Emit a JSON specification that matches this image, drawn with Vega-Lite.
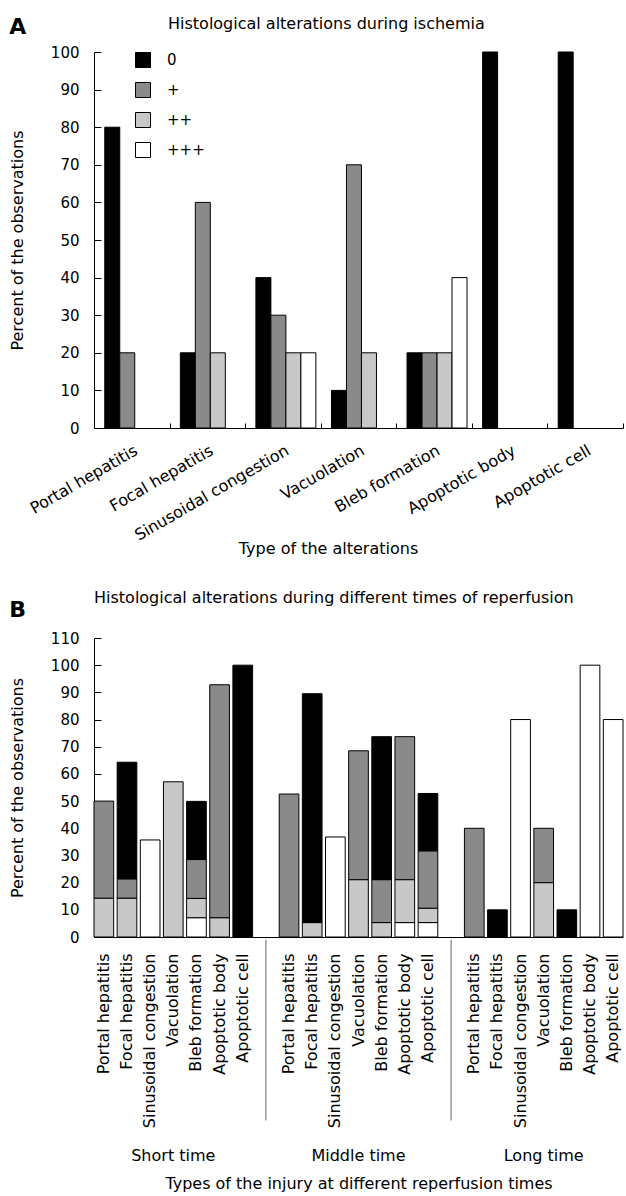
{
  "$schema": "https://vega.github.io/schema/vega-lite/v6.json",
  "background": "white",
  "padding": {"left": 9, "top": 16, "right": 0, "bottom": 0},
  "spacing": 34,
  "config": {
    "font": "DejaVu Sans",
    "view": {"stroke": null},
    "axis": {"domainColor": "black", "tickColor": "black", "labelColor": "black", "titleColor": "black", "labelFont": "DejaVu Sans", "titleFont": "DejaVu Sans", "labelFontSize": 15, "titleFontSize": 16, "titleFontWeight": "normal", "grid": false, "labelOverlap": false, "labelBound": false},
    "legend": {"labelFont": "DejaVu Sans", "labelFontSize": 15, "labelColor": "black"},
    "title": {"font": "DejaVu Sans", "fontWeight": "normal", "fontSize": 16, "color": "black"}
  },
  "datasets": {
    "ischemia": [
      {"alteration": "Portal hepatitis", "grade": "0", "value": 80},
      {"alteration": "Portal hepatitis", "grade": "+", "value": 20},
      {"alteration": "Focal hepatitis", "grade": "0", "value": 20},
      {"alteration": "Focal hepatitis", "grade": "+", "value": 60},
      {"alteration": "Focal hepatitis", "grade": "++", "value": 20},
      {"alteration": "Sinusoidal congestion", "grade": "0", "value": 40},
      {"alteration": "Sinusoidal congestion", "grade": "+", "value": 30},
      {"alteration": "Sinusoidal congestion", "grade": "++", "value": 20},
      {"alteration": "Sinusoidal congestion", "grade": "+++", "value": 20},
      {"alteration": "Vacuolation", "grade": "0", "value": 10},
      {"alteration": "Vacuolation", "grade": "+", "value": 70},
      {"alteration": "Vacuolation", "grade": "++", "value": 20},
      {"alteration": "Bleb formation", "grade": "0", "value": 20},
      {"alteration": "Bleb formation", "grade": "+", "value": 20},
      {"alteration": "Bleb formation", "grade": "++", "value": 20},
      {"alteration": "Bleb formation", "grade": "+++", "value": 40},
      {"alteration": "Apoptotic body", "grade": "0", "value": 100},
      {"alteration": "Apoptotic cell", "grade": "0", "value": 100}
    ],
    "reperfusion": [
      {"key": "Short time|Portal hepatitis", "grade": "++", "level": 2, "value": 14.3},
      {"key": "Short time|Portal hepatitis", "grade": "+", "level": 1, "value": 35.7},
      {"key": "Short time|Focal hepatitis", "grade": "++", "level": 2, "value": 14.3},
      {"key": "Short time|Focal hepatitis", "grade": "+", "level": 1, "value": 7.1},
      {"key": "Short time|Focal hepatitis", "grade": "0", "level": 0, "value": 42.9},
      {"key": "Short time|Sinusoidal congestion", "grade": "+++", "level": 3, "value": 35.7},
      {"key": "Short time|Vacuolation", "grade": "++", "level": 2, "value": 57.1},
      {"key": "Short time|Bleb formation", "grade": "+++", "level": 3, "value": 7.1},
      {"key": "Short time|Bleb formation", "grade": "++", "level": 2, "value": 7.1},
      {"key": "Short time|Bleb formation", "grade": "+", "level": 1, "value": 14.3},
      {"key": "Short time|Bleb formation", "grade": "0", "level": 0, "value": 21.4},
      {"key": "Short time|Apoptotic body", "grade": "++", "level": 2, "value": 7.1},
      {"key": "Short time|Apoptotic body", "grade": "+", "level": 1, "value": 85.7},
      {"key": "Short time|Apoptotic cell", "grade": "0", "level": 0, "value": 100},
      {"key": "Middle time|Portal hepatitis", "grade": "+", "level": 1, "value": 52.6},
      {"key": "Middle time|Focal hepatitis", "grade": "++", "level": 2, "value": 5.3},
      {"key": "Middle time|Focal hepatitis", "grade": "0", "level": 0, "value": 84.2},
      {"key": "Middle time|Sinusoidal congestion", "grade": "+++", "level": 3, "value": 36.8},
      {"key": "Middle time|Vacuolation", "grade": "++", "level": 2, "value": 21.1},
      {"key": "Middle time|Vacuolation", "grade": "+", "level": 1, "value": 47.4},
      {"key": "Middle time|Bleb formation", "grade": "++", "level": 2, "value": 5.3},
      {"key": "Middle time|Bleb formation", "grade": "+", "level": 1, "value": 15.8},
      {"key": "Middle time|Bleb formation", "grade": "0", "level": 0, "value": 52.6},
      {"key": "Middle time|Apoptotic body", "grade": "+++", "level": 3, "value": 5.3},
      {"key": "Middle time|Apoptotic body", "grade": "++", "level": 2, "value": 15.8},
      {"key": "Middle time|Apoptotic body", "grade": "+", "level": 1, "value": 52.6},
      {"key": "Middle time|Apoptotic cell", "grade": "+++", "level": 3, "value": 5.3},
      {"key": "Middle time|Apoptotic cell", "grade": "++", "level": 2, "value": 5.3},
      {"key": "Middle time|Apoptotic cell", "grade": "+", "level": 1, "value": 21.1},
      {"key": "Middle time|Apoptotic cell", "grade": "0", "level": 0, "value": 21.1},
      {"key": "Long time|Portal hepatitis", "grade": "+", "level": 1, "value": 40},
      {"key": "Long time|Focal hepatitis", "grade": "0", "level": 0, "value": 10},
      {"key": "Long time|Sinusoidal congestion", "grade": "+++", "level": 3, "value": 80},
      {"key": "Long time|Vacuolation", "grade": "++", "level": 2, "value": 20},
      {"key": "Long time|Vacuolation", "grade": "+", "level": 1, "value": 20},
      {"key": "Long time|Bleb formation", "grade": "0", "level": 0, "value": 10},
      {"key": "Long time|Apoptotic body", "grade": "+++", "level": 3, "value": 100},
      {"key": "Long time|Apoptotic cell", "grade": "+++", "level": 3, "value": 80}
    ],
    "separators": [{"key": "gap1"}, {"key": "gap2"}],
    "groups": [
      {"key": "Short time|Vacuolation", "label": "Short time"},
      {"key": "Middle time|Vacuolation", "label": "Middle time"},
      {"key": "Long time|Vacuolation", "label": "Long time"}
    ]
  },
  "vconcat": [
    {
      "title": {"text": "A", "anchor": "start", "frame": "bounds", "fontSize": 22, "fontWeight": "bold", "dy": 23, "offset": 0},
      "vconcat": [
        {
          "width": 529,
          "height": 376,
          "title": {"text": "Histological alterations during ischemia", "anchor": "start", "frame": "group", "dx": 74, "offset": 13},
          "data": {"name": "ischemia"},
          "mark": {"type": "bar", "stroke": "black", "strokeWidth": 1},
          "encoding": {
            "x": {
              "field": "alteration", "type": "nominal",
              "sort": ["Portal hepatitis", "Focal hepatitis", "Sinusoidal congestion", "Vacuolation", "Bleb formation", "Apoptotic body", "Apoptotic cell"],
              "scale": {"paddingInner": 0, "paddingOuter": 0},
              "axis": {
                "title": "Type of the alterations", "labelAngle": -30, "labelFontSize": 16, "tickBand": "extent", "tickSize": -5,
                "labelPadding": 19, "titleX": 234, "titleY": 112, "titleAlign": "center", "titleBaseline": "top"
              }
            },
            "xOffset": {"field": "grade", "type": "nominal", "scale": {"domain": ["0", "+", "++", "+++"], "paddingInner": 0, "paddingOuter": 0.52, "align": 0.69}},
            "y": {
              "field": "value", "type": "quantitative",
              "scale": {"domain": [0, 100], "nice": false},
              "axis": {"title": "Percent of the observations", "values": [0, 10, 20, 30, 40, 50, 60, 70, 80, 90, 100], "tickCount": 11, "tickSize": -7, "labelPadding": 22, "titlePadding": 25, "labelOverlap": false}
            },
            "color": {
              "field": "grade", "type": "nominal",
              "scale": {"domain": ["0", "+", "++", "+++"], "range": ["#000000", "#8a8a8a", "#c8c8c8", "#ffffff"]},
              "legend": {"title": null, "orient": "none", "legendX": 41, "legendY": 0, "symbolType": "square", "symbolSize": 225, "symbolStrokeColor": "black", "symbolStrokeWidth": 1, "labelOffset": 16, "rowPadding": 10, "padding": 0}
            }
          }
        }
      ]
    },
    {
      "title": {"text": "B", "anchor": "start", "frame": "bounds", "fontSize": 22, "fontWeight": "bold", "dy": 32, "offset": 0},
      "vconcat": [
        {
          "width": 529,
          "height": 299,
          "title": {"text": "Histological alterations during different times of reperfusion", "anchor": "start", "frame": "group", "offset": 25},
          "layer": [
            {
              "data": {"name": "reperfusion"},
              "mark": {"type": "bar", "stroke": "black", "strokeWidth": 1},
              "encoding": {
                "x": {
                  "field": "key", "type": "nominal",
                  "scale": {
                    "domain": [
                      "Short time|Portal hepatitis", "Short time|Focal hepatitis", "Short time|Sinusoidal congestion", "Short time|Vacuolation", "Short time|Bleb formation", "Short time|Apoptotic body", "Short time|Apoptotic cell",
                      "gap1",
                      "Middle time|Portal hepatitis", "Middle time|Focal hepatitis", "Middle time|Sinusoidal congestion", "Middle time|Vacuolation", "Middle time|Bleb formation", "Middle time|Apoptotic body", "Middle time|Apoptotic cell",
                      "gap2",
                      "Long time|Portal hepatitis", "Long time|Focal hepatitis", "Long time|Sinusoidal congestion", "Long time|Vacuolation", "Long time|Bleb formation", "Long time|Apoptotic body", "Long time|Apoptotic cell"
                    ],
                    "paddingInner": 0.15, "paddingOuter": 0
                  },
                  "axis": {
                    "title": "Types of the injury at different reperfusion times",
                    "labelAngle": -90, "labelAlign": "right", "labelBaseline": "middle", "labelFontSize": 16,
                    "ticks": false, "labelPadding": 16, "titlePadding": 48,
                    "labelExpr": "indexof(datum.label, '|') >= 0 ? split(datum.label, '|')[1] : ''"
                  }
                },
                "y": {
                  "field": "value", "type": "quantitative", "stack": "zero",
                  "scale": {"domain": [0, 110], "nice": false},
                  "axis": {"title": "Percent of the observations", "values": [0, 10, 20, 30, 40, 50, 60, 70, 80, 90, 100, 110], "tickCount": 12, "tickSize": -7, "labelPadding": 22, "titlePadding": 25, "labelOverlap": false}
                },
                "color": {
                  "field": "grade", "type": "nominal",
                  "scale": {"domain": ["0", "+", "++", "+++"], "range": ["#000000", "#8a8a8a", "#c8c8c8", "#ffffff"]},
                  "legend": {"title": null, "orient": "none", "legendX": 41, "legendY": 2, "symbolType": "square", "symbolSize": 225, "symbolStrokeColor": "black", "symbolStrokeWidth": 1, "labelOffset": 16, "rowPadding": 10, "padding": 0}
                },
                "order": {"field": "level", "type": "quantitative", "sort": "descending"}
              }
            },
            {
              "data": {"name": "separators"},
              "mark": {"type": "rule", "color": "#666666", "strokeWidth": 1},
              "encoding": {
                "x": {"field": "key", "type": "nominal"},
                "y": {"datum": -1, "type": "quantitative"},
                "y2": {"datum": -67.5}
              }
            },
            {
              "data": {"name": "groups"},
              "mark": {"type": "text", "fontSize": 16, "baseline": "middle", "align": "center", "color": "black"},
              "encoding": {
                "x": {"field": "key", "type": "nominal"},
                "y": {"datum": -80.5, "type": "quantitative"},
                "text": {"field": "label"}
              }
            }
          ]
        }
      ]
    }
  ]
}
